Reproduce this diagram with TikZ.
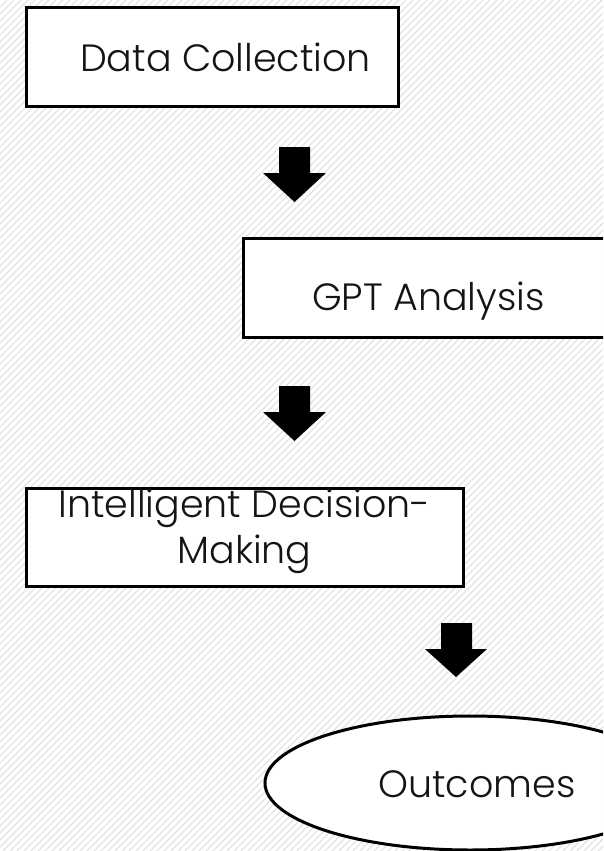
\documentclass[tikz,border=0pt]{standalone}
\usepackage{fontspec}
\setmainfont{Poppins Light}
\usetikzlibrary{shapes.geometric}
\tikzset{
  boxstyle/.style={draw=black, line width=3pt, fill=white, inner sep=0pt},
  ovalstyle/.style={ellipse, draw=black, line width=3pt, fill=white, inner sep=0pt},
  labelstyle/.style={font=\fontsize{38}{46}\selectfont, text=black!92, inner sep=0pt, align=center},
  blockarrow/.style={fill=black, draw=none},
  hatch/.style={draw=black!11, line width=1.3pt}
}
\begin{document}
\begin{tikzpicture}[x=1pt,y=-1pt]
\useasboundingbox (0,0) rectangle (603,851);
\fill[white] (0,0) rectangle (603,851);
\begin{scope}
\clip (0,0) rectangle (603,851);
\foreach \i in {-900,-893,...,610} \draw[hatch] (\i,851) -- (\i+851,0);
\end{scope}
\begin{scope}
\clip (0,0) rectangle (603,851);
% boxes
\node[boxstyle, minimum width=372pt, minimum height=98pt] (b1) at (212,57) {};
\node[labelstyle, anchor=base] (t1) at (225.5,71) {Data Collection};
\node[boxstyle, minimum width=371pt, minimum height=99pt] (b2) at (428.5,287.5) {};
\node[labelstyle, anchor=base] (t2) at (428.5,310) {GPT Analysis};
\node[boxstyle, minimum width=437pt, minimum height=98pt] (b3) at (244.5,537) {};
\node[labelstyle, anchor=base] (t3a) at (244.5,517) {Intelligent Decision-};
\node[labelstyle, anchor=base] (t3b) at (244.5,563) {Making};
\node[ovalstyle, minimum width=410pt, minimum height=134pt] (o4) at (470,783) {};
\node[labelstyle, anchor=base] (t4) at (477,797) {Outcomes};
% block arrows
\fill[blockarrow] (279,147) -- (310,147) -- (310,173) -- (326,173) -- (294.5,202) -- (263,173) -- (279,173) -- cycle;
\fill[blockarrow] (279,386) -- (310,386) -- (310,412) -- (326,412) -- (294.5,441) -- (263,412) -- (279,412) -- cycle;
\fill[blockarrow] (441,623) -- (472,623) -- (472,649) -- (487,649) -- (456,677) -- (425,649) -- (441,649) -- cycle;
\end{scope}
\end{tikzpicture}
\end{document}
